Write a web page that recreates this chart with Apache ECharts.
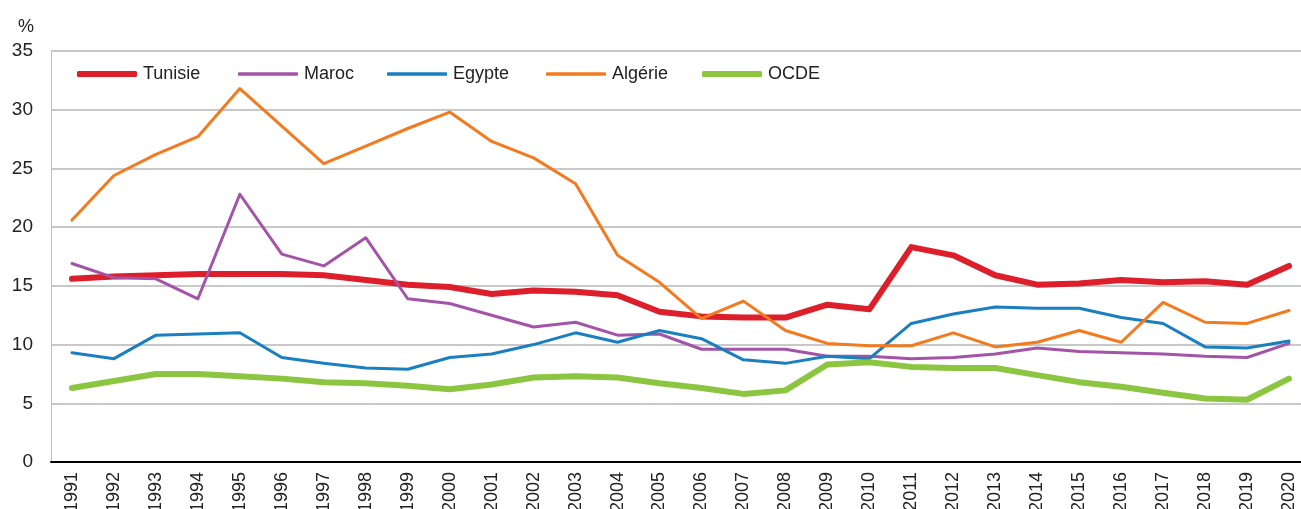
<!DOCTYPE html>
<html>
<head>
<meta charset="utf-8">
<script src="https://cdn.jsdelivr.net/npm/echarts@6/dist/echarts.min.js"></script>
<style>
  html, body { margin: 0; padding: 0; background: #fff; }
  #chart { width: 1301px; height: 509px; }
</style>
</head>
<body>
<div id="chart"></div>
<script>
// années
var years = ["1991", "1992", "1993", "1994", "1995", "1996", "1997", "1998", "1999", "2000",
    "2001", "2002", "2003", "2004", "2005", "2006", "2007", "2008", "2009", "2010",
    "2011", "2012", "2013", "2014", "2015", "2016", "2017", "2018", "2019", "2020"];

var tunisie = [15.6, 15.8, 15.9, 16.0, 16.0, 16.0, 15.9, 15.5, 15.1, 14.9,
    14.3, 14.6, 14.5, 14.2, 12.8, 12.4, 12.3, 12.3, 13.4, 13.0,
    18.3, 17.6, 15.9, 15.1, 15.2, 15.5, 15.3, 15.4, 15.1, 16.7];
var maroc = [16.9, 15.7, 15.6, 13.9, 22.8, 17.7, 16.7, 19.1, 13.9, 13.5,
    12.5, 11.5, 11.9, 10.8, 10.9, 9.6, 9.6, 9.6, 9.0, 9.0,
    8.8, 8.9, 9.2, 9.7, 9.4, 9.3, 9.2, 9.0, 8.9, 10.1];
var egypte = [9.3, 8.8, 10.8, 10.9, 11.0, 8.9, 8.4, 8.0, 7.9, 8.9,
    9.2, 10.0, 11.0, 10.2, 11.2, 10.5, 8.7, 8.4, 9.0, 8.8,
    11.8, 12.6, 13.2, 13.1, 13.1, 12.3, 11.8, 9.8, 9.7, 10.3];
var algerie = [20.6, 24.4, 26.2, 27.7, 31.8, 28.6, 25.4, 26.9, 28.4, 29.8,
    27.3, 25.9, 23.7, 17.6, 15.3, 12.2, 13.7, 11.2, 10.1, 9.9,
    9.9, 11.0, 9.8, 10.2, 11.2, 10.2, 13.6, 11.9, 11.8, 12.9];
var ocde = [6.3, 6.9, 7.5, 7.5, 7.3, 7.1, 6.8, 6.7, 6.5, 6.2,
    6.6, 7.2, 7.3, 7.2, 6.7, 6.3, 5.8, 6.1, 8.3, 8.5,
    8.1, 8.0, 8.0, 7.4, 6.8, 6.4, 5.9, 5.4, 5.3, 7.1];

var font = "Liberation Sans, Arial, sans-serif";

function serie(name, data, color, width) {
    return {
        name: name,
        type: "line",
        data: data,
        symbol: "none",
        showSymbol: false,
        lineStyle: { color: color, width: width, cap: "round", join: "round" },
        itemStyle: { color: color }
    };
}

// une légende par série, pour placer chaque entrée comme dans l'original
function legende(name, left, h) {
    return {
        left: left - 5,
        top: 60,
        icon: "roundRect",
        itemWidth: 60,
        itemHeight: h,
        itemGap: 0,
        selectedMode: false,
        textStyle: { fontSize: 18, color: "#222", fontFamily: font, padding: [0, 0, 0, 1] },
        data: [name]
    };
}

var myChart = echarts.init(document.getElementById("chart"));
var option = {
    animation: false,
    textStyle: { fontFamily: font },
    grid: { left: 51, right: -9, top: 51, bottom: 47, outerBoundsMode: "none", containLabel: false },
    legend: [
        legende("Tunisie", 77, 6),
        legende("Maroc", 238, 3.5),
        legende("Egypte", 387, 3.5),
        legende("Algérie", 546, 3.5),
        legende("OCDE", 702, 6)
    ],
    xAxis: {
        type: "category",
        data: years,
        boundaryGap: true,
        axisLine: { lineStyle: { color: "#000", width: 2 } },
        axisTick: { inside: true, length: 6, lineStyle: { color: "#000", width: 2 } },
        axisLabel: { rotate: 90, fontSize: 18, color: "#222", margin: 10, interval: 0 },
        splitLine: { show: false }
    },
    yAxis: {
        type: "value",
        min: 0,
        max: 35,
        interval: 5,
        name: "%",
        nameLocation: "end",
        nameGap: 15,
        nameTextStyle: { fontSize: 18, color: "#222", align: "right", padding: [0, 17, 0, 0] },
        axisLine: { show: true, lineStyle: { color: "#c0c0c0", width: 1 } },
        axisTick: { show: false },
        axisLabel: { fontSize: 19, color: "#222", margin: 18 },
        splitLine: { lineStyle: { color: "#c8c8c8", width: 2 } }
    },
    series: [
        serie("Tunisie", tunisie, "#dc1f2a", 6),
        serie("Maroc", maroc, "#a354a8", 3),
        serie("Egypte", egypte, "#1a7fc1", 3),
        serie("Algérie", algerie, "#f47a20", 3),
        serie("OCDE", ocde, "#8cc540", 6)
    ]
};
myChart.setOption(option);
</script>
</body>
</html>
